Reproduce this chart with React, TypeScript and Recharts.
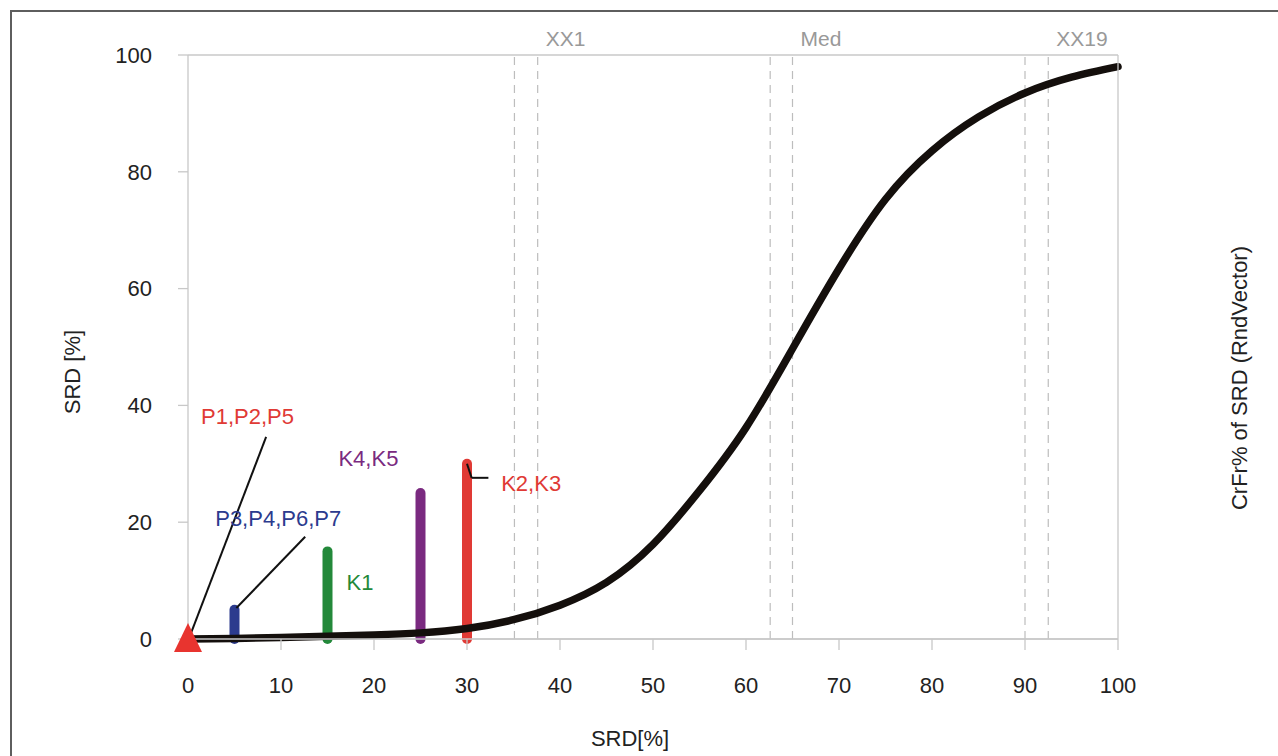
import React from "react";
import {
  ComposedChart,
  Line,
  Scatter,
  XAxis,
  YAxis,
  CartesianGrid,
  ReferenceLine,
  ReferenceDot,
} from "recharts";

// sigmoid curve
const curveX = [0, 5, 10, 15, 20, 25, 30, 35, 40, 45, 50, 55, 60, 65, 70, 75, 80, 85, 90, 95, 100];
const curveY = [0, 0.1, 0.25, 0.45, 0.7, 1.05, 1.8, 3.3, 5.8, 9.7, 16.2, 25.4, 36.2, 49.7, 63.4, 75.3, 83.6, 89.4, 93.5, 96.2, 98];

// vertical bars
const barNames = ["P3,P4,P6,P7", "K1", "K4,K5", "K2,K3"];
const barX = [5, 15, 25, 30];
const barTop = [5, 15, 25, 30];
const barColors = ["#2c3b8e", "#23893a", "#7a2a80", "#e03a35"];

// dashed marker pairs
const markerNames = ["XX1", "Med", "XX19"];
const markerLow = [35.1, 62.6, 90.0];
const markerHigh = [37.6, 65.0, 92.5];

// annotation texts
const noteText = ["P1,P2,P5", "P3,P4,P6,P7", "K1", "K4,K5", "K2,K3"];
const noteX = [6.4, 9.7, 18.5, 19.4, 36.9];
const noteY = [38.2, 20.7, 9.8, 31.0, 26.7];
const noteColors = ["#e03a35", "#2c3b8e", "#23893a", "#7a2a80", "#e03a35"];

// leader lines [x1, y1, x2, y2]
const leaders = [
  [0.2, 0.5, 8.4, 34.6],
  [5.2, 5.3, 12.6, 17.5],
  [30.0, 30.0, 30.5, 27.6],
  [30.5, 27.6, 32.3, 27.6],
];

const ticks = [0, 10, 20, 30, 40, 50, 60, 70, 80, 90, 100];
const yTicks = [0, 20, 40, 60, 80, 100];

const curve = curveX.map((x, i) => ({ x, y: curveY[i] }));
const origin = [{ x: 0, y: 0 }];

const FONT = "'Liberation Sans', Arial, sans-serif";
const AXIS = "#c8c8c8";

const Triangle = (p: any) => (
  <polygon
    points={`${p.cx},${p.cy - 16} ${p.cx - 14},${p.cy + 13} ${p.cx + 14},${p.cy + 13}`}
    fill="#e8342f"
  />
);

export default function App() {
  return (
    <div
      style={{
        position: "absolute",
        left: 0,
        top: 0,
        width: 1278,
        height: 756,
        overflow: "hidden",
        background: "#fff",
        fontFamily: FONT,
      }}
    >
      <div
        style={{
          position: "absolute",
          left: 10,
          top: 10,
          width: 1320,
          height: 800,
          border: "2px solid #5e5e5e",
        }}
      />
      <div style={{ position: "absolute", left: 0, top: 0 }}>
        <ComposedChart
          width={1278}
          height={756}
          margin={{ top: 55, right: 10, bottom: 57, left: 38 }}
          style={{ fontFamily: FONT }}
        >
          <CartesianGrid vertical={false} stroke={AXIS} strokeWidth={1.3} />
          <XAxis
            type="number"
            dataKey="x"
            domain={[0, 100]}
            ticks={ticks}
            interval={0}
            height={60}
            tickSize={11}
            tickMargin={27}
            stroke={AXIS}
            strokeWidth={1.3}
            tick={{ fill: "#222", fontSize: 22 }}
            allowDuplicatedCategory={false}
            label={{
              content: () => (
                <text x={630} y={746} textAnchor="middle" fontSize={22} fill="#222">
                  SRD[%]
                </text>
              ),
            }}
          />
          <YAxis
            yAxisId="left"
            orientation="left"
            type="number"
            dataKey="y"
            domain={[0, 100]}
            ticks={yTicks}
            width={150}
            tickSize={10}
            tickMargin={26}
            stroke={AXIS}
            strokeWidth={1.3}
            tick={{ fill: "#222", fontSize: 22 }}
            label={{
              content: () => (
                <text
                  x={80}
                  y={372}
                  textAnchor="middle"
                  fontSize={22}
                  fill="#222"
                  transform="rotate(-90 80 372)"
                >
                  SRD [%]
                </text>
              ),
            }}
          />
          <YAxis
            yAxisId="right"
            orientation="right"
            type="number"
            domain={[0, 100]}
            ticks={yTicks}
            width={150}
            tickSize={10}
            tickMargin={26}
            stroke={AXIS}
            strokeWidth={1.3}
            tick={{ fill: "#222", fontSize: 22 }}
            label={{
              content: () => (
                <text
                  x={1247}
                  y={378}
                  textAnchor="middle"
                  fontSize={22}
                  fill="#222"
                  transform="rotate(-90 1247 378)"
                >
                  CrFr% of SRD (RndVector)
                </text>
              ),
            }}
          />

          {markerLow.map((x, i) => (
            <ReferenceLine
              key={"lo" + i}
              yAxisId="left"
              x={x}
              stroke="#bdbdbd"
              strokeWidth={1.2}
              strokeDasharray="8 6"
            />
          ))}
          {markerHigh.map((x, i) => (
            <ReferenceLine
              key={"hi" + i}
              yAxisId="left"
              x={x}
              stroke="#bdbdbd"
              strokeWidth={1.2}
              strokeDasharray="8 6"
              label={{
                content: (p: any) => (
                  <text
                    x={p.viewBox.x + 8}
                    y={46}
                    textAnchor="start"
                    fontSize={21}
                    fill="#999"
                  >
                    {markerNames[i]}
                  </text>
                ),
              }}
            />
          ))}

          <Scatter
            yAxisId="left"
            data={origin}
            dataKey="y"
            shape={Triangle}
            isAnimationActive={false}
          />

          {barX.map((x, i) => (
            <Line
              key={barNames[i]}
              yAxisId="left"
              data={[
                { x, y: 0 },
                { x, y: barTop[i] },
              ]}
              dataKey="y"
              type="linear"
              stroke={barColors[i]}
              strokeWidth={10}
              strokeLinecap="round"
              dot={false}
              activeDot={false}
              isAnimationActive={false}
            />
          ))}

          <Line
            yAxisId="left"
            data={curve}
            dataKey="y"
            type="natural"
            stroke="#140f0c"
            strokeWidth={7.5}
            strokeLinecap="round"
            dot={false}
            activeDot={false}
            isAnimationActive={false}
          />

          {leaders.map((s, i) => (
            <ReferenceLine
              key={"ld" + i}
              yAxisId="left"
              segment={[
                { x: s[0], y: s[1] },
                { x: s[2], y: s[3] },
              ]}
              stroke="#111"
              strokeWidth={2}
            />
          ))}

          {noteText.map((t, i) => (
            <ReferenceDot
              key={t}
              yAxisId="left"
              x={noteX[i]}
              y={noteY[i]}
              r={0}
              fill="none"
              stroke="none"
              label={{
                value: t,
                position: "center",
                fill: noteColors[i],
                fontSize: 22,
              }}
            />
          ))}
        </ComposedChart>
      </div>
    </div>
  );
}
